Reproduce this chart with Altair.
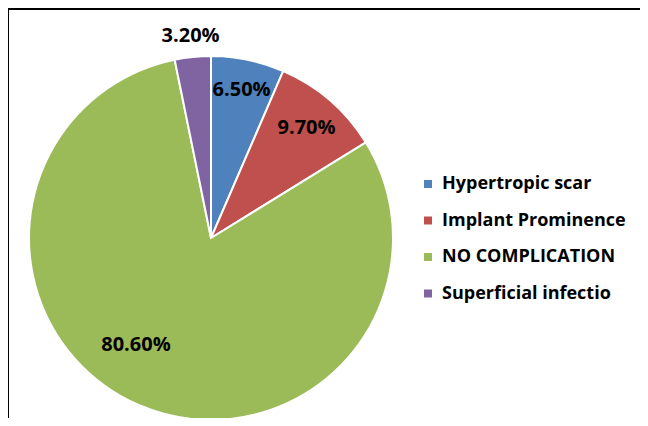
import altair as alt
import pandas as pd

categories = ["Hypertropic scar", "Implant Prominence", "NO COMPLICATION", "Superficial infectio"]
values = [6.5, 9.7, 80.6, 3.2]
labels = ["6.50%", "9.70%", "80.60%", "3.20%"]
colors = ["#4F81BD", "#C0504D", "#9BBB59", "#8064A2"]

df = pd.DataFrame({
    "category": categories,
    "value": values,
    "label": labels,
    "order": list(range(len(categories))),
})

W, H = 632, 410
CX, CY, R = 203, 230, 182
FONT = "Open Sans"

arcs = alt.Chart(df).mark_arc(outerRadius=R, stroke="white", strokeWidth=2).encode(
    theta=alt.Theta("value:Q", stack=True, scale=alt.Scale(domain=[0, 100])),
    order=alt.Order("order:Q", sort="ascending"),
    x=alt.value(CX),
    y=alt.value(CY),
    color=alt.Color(
        "category:N",
        sort=categories,
        scale=alt.Scale(domain=categories, range=colors),
        legend=alt.Legend(
            title=None,
            orient="none",
            legendX=411,
            legendY=167,
            symbolType="square",
            symbolSize=64,
            symbolStrokeWidth=0,
            labelFont=FONT,
            labelFontSize=18,
            labelFontWeight="bold",
            labelColor="#000000",
            labelOffset=5,
            rowPadding=18.5,
            labelLimit=300,
        ),
    ),
)

txt_base = alt.Chart(df).transform_window(
    cum="sum(value)", sort=[alt.SortField("order", order="ascending")]
).transform_calculate(
    mid="datum.cum - datum.value / 2"
).encode(
    theta=alt.Theta("mid:Q", stack=None, scale=alt.Scale(domain=[0, 100])),
    x=alt.value(CX),
    y=alt.value(CY),
    text="label:N",
)

txt_kw = dict(font=FONT, fontSize=20, fontWeight="bold", color="#000000", align="center", baseline="middle")

blue = txt_base.mark_text(radius=151, **txt_kw).transform_filter(
    alt.FieldEqualPredicate(field="category", equal=categories[0])
)
red = txt_base.mark_text(radius=146, **txt_kw).transform_filter(
    alt.FieldEqualPredicate(field="category", equal=categories[1])
)
green = txt_base.mark_text(radius=131, dx=-23, dy=-13, **txt_kw).transform_filter(
    alt.FieldEqualPredicate(field="category", equal=categories[2])
)
purple = txt_base.mark_text(radius=203, **txt_kw).transform_filter(
    alt.FieldEqualPredicate(field="category", equal=categories[3])
)

border_top = alt.Chart(df).mark_rule(color="black", strokeWidth=2).encode(
    x=alt.value(0), x2=alt.value(W), y=alt.value(1)
)
border_left = alt.Chart(df).mark_rule(color="black", strokeWidth=2).encode(
    x=alt.value(0), y=alt.value(1), y2=alt.value(H)
)

chart = alt.layer(arcs, blue, red, green, purple, border_top, border_left).properties(
    width=W,
    height=H,
    padding=0,
    autosize=alt.AutoSizeParams(type="none"),
).configure_view(stroke=None).configure(background="white")

chart.save("out.html", embed_options={"renderer": "svg", "actions": False})
